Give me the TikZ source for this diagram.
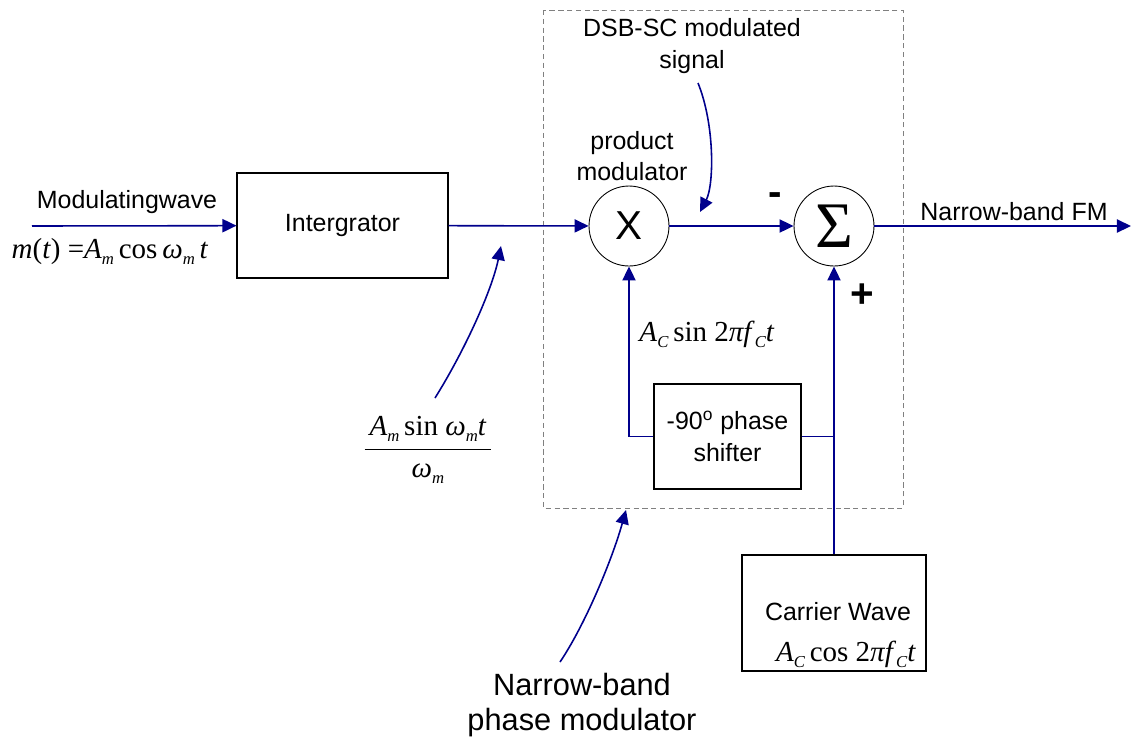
\documentclass[tikz,border=0pt]{standalone}
\usepackage{fontspec}
\setmainfont{Liberation Sans}
\newfontfamily\tms{Liberation Serif}
\usetikzlibrary{positioning, arrows.meta}
\definecolor{sigblue}{RGB}{0,0,140}
\newcommand\lowi[1]{\raisebox{-0.45ex}{\fontsize{9.5}{9.5}\selectfont\itshape #1}}

\begin{document}
\begin{tikzpicture}[
      x=0.02cm, y=-0.02cm,
      every node/.style = {font=\fontsize{14.2}{18}\selectfont, inner sep=0pt, align=center},
      blk/.style = {draw=black, line width=0.6pt, fill=white},
      junc/.style = {draw=black, circle, line width=0.5pt, minimum size=1.6cm, fill=white},
      formula/.style = {font=\tms\fontsize{16.5}{18}\selectfont},
      sgn/.style = {font=\bfseries\fontsize{23}{23}\selectfont},
      arr/.style = {-{Triangle[length=8pt,width=7.5pt]}, line width=0.9pt, color=sigblue},
      wire/.style = {line width=0.9pt, color=sigblue},
      pmbox/.style = {draw=gray, densely dashed, line width=0.4pt}
    ]
    \useasboundingbox (0,0) rectangle (1133,745);
    \draw[pmbox] (543,10) rectangle (903,508);
    \node[blk, minimum width=4.22cm, minimum height=2.1cm] (integ) at (342.5,225.5) {Intergrator};
    \node[junc, font=\fontsize{23}{23}\selectfont] (prod) at (629,226) {X};
    \node[junc, font=\tms\fontsize{37}{37}\selectfont] (sum) at (834,226) {Σ};
    \node[blk, minimum width=2.94cm, minimum height=2.1cm] (shift) at (727.5,436.5) {-90\textsuperscript{o} phase\\shifter};
    \node[blk, minimum width=3.68cm, minimum height=2.32cm] (carrier) at (834,613) {};
    \node (carriertxt) at (838,612) {Carrier Wave};
    \node[formula] (carrierfn) at (846,654) {\textit{A}\lowi{C}\,cos 2\textit{πf}\lowi{C}\textit{t}};
    \node (modtxt) at (127,202) {Modulatingwave};
    \node[formula] (modfn) at (110,252) {\textit{m}(\textit{t}) =\textit{A}\lowi{m}\,cos\,\textit{ω}\lowi{m}\,\textit{t}};
    \node (prodtxt) at (632,156) {product\\modulator};
    \node (dsb) at (692,46) {DSB-SC modulated\\signal};
    \node (fmtxt) at (1014,212) {Narrow-band FM};
    \node[formula] (sinfn) at (707,334) {\textit{A}\lowi{C}\,sin 2\textit{πf}\lowi{C}\textit{t}};
    \node[formula] (intfn) at (428,450) {$\displaystyle\frac{\hbox{\,\textit{A}\lowi{m}\,sin \textit{ω}\lowi{m}\textit{t}\,}}{\hbox{\textit{ω}\lowi{m}}}$};
    \node[sgn] (minus) at (775,199) {-};
    \node[sgn] (plus) at (862,296) {+};
    \node[font=\fontsize{17.5}{20}\selectfont] (pmtxt) at (582,705) {Narrow-band\\phase modulator};
    \coordinate (in) at (32,226);
    \coordinate (out) at (1131,226);
    \coordinate (tap) at (shift.east -| sum);
    \coordinate (dsbtip) at (700,212);
    \coordinate (inttip) at (501,246);
    \coordinate (pmtip) at (626,510);
    \draw[arr] (in) -- (integ);
    \draw[arr] (integ) -- (prod);
    \draw[arr] (prod) -- (sum);
    \draw[arr] (sum) -- (out);
    \draw[arr] (shift) -| (prod);
    \draw[wire] (shift) -- (tap);
    \draw[arr] (carrier) -- (sum);
    \draw[arr] (698,83) .. controls (715,125) and (714,185) .. (dsbtip);
    \draw[arr] (435,398) .. controls (465,350) and (492,290) .. (inttip);
    \draw[arr] (560,662) .. controls (585,625) and (612,560) .. (pmtip);
  \end{tikzpicture}
\end{document}
